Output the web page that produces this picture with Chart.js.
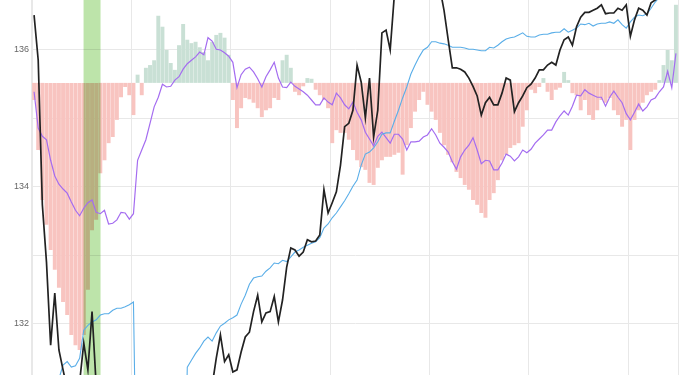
<!DOCTYPE html>
<html>
<head>
<meta charset="utf-8">
<title>Price chart</title>
<script src="https://cdn.jsdelivr.net/npm/chart.js@4/dist/chart.umd.min.js"></script>
<style>
  html, body { margin: 0; padding: 0; background: #fff; overflow: hidden; }
  #wrap { position: relative; width: 685px; height: 375px; }
</style>
</head>
<body>
<div id="wrap"><canvas id="chart"></canvas></div>
<script>
// ---- data ----
const POINTS = 156;
const labels = Array.from({ length: POINTS }, (_, i) => String(i + 1));

// histogram baseline, in price units
const HIST_BASE = 135.52;

const histBars = [
  135.27, 134.54, 133.81, 133.45, 133.08, 132.79, 132.53, 132.32, 132.13, 131.84,
  131.69, 131.62, 131.84, 132.50, 133.37, 133.52, 134.20, 134.39, 134.64, 134.73,
  134.98, 135.31, 135.46, 135.34, 135.05, 135.64, 135.34, 135.74, 135.78, 135.85,
  136.50, 136.34, 136.00, 135.81, 135.71, 136.07, 136.38, 136.15, 136.10, 136.12,
  136.04, 135.97, 135.85, 136.12, 136.22, 136.25, 136.18, 135.93, 135.27, 134.86,
  135.15, 135.30, 135.28, 135.23, 135.15, 135.02, 135.12, 135.15, 135.30, 135.27,
  135.85, 135.93, 135.74, 135.39, 135.34, 135.47, 135.59, 135.58, 135.42, 135.34,
  135.27, 135.15, 134.64, 134.83, 134.79, 134.79, 134.69, 134.54, 134.39, 134.29,
  134.25, 134.06, 134.03, 134.28, 134.39, 134.44, 134.44, 134.47, 134.50, 134.18,
  134.61, 134.86, 135.10, 135.27, 135.39, 135.20, 135.10, 134.98, 134.79, 134.61,
  134.47, 134.36, 134.22, 134.13, 134.03, 133.96, 133.81, 133.74, 133.62, 133.55,
  133.81, 133.91, 134.10, 134.39, 134.47, 134.57, 134.61, 134.64, 134.88, 135.12,
  135.42, 135.37, 135.46, 135.59, 135.39, 135.27, 135.42, 135.45, 135.68, 135.56,
  135.37, 135.34, 135.12, 135.27, 135.05, 134.98, 135.12, 135.27, 135.23, 135.30,
  135.12, 135.05, 134.88, 134.98, 134.54, 134.98, 135.12, 135.23, 135.34, 135.39,
  135.42, 135.56, 135.78, 136.00, 135.85, 136.66
];

const blackLine = [
  136.51, 135.85, 133.74, 132.90, 131.69, 132.45, 131.62, 131.33, 131.05, 130.95,
  131.00, 131.15, 131.72, 131.33, 132.18, 131.10, 130.95, 130.90, 130.85, 130.80,
  130.80, 130.75, 130.70, 130.70, 130.75, 130.80, 130.80, 130.75, 130.70, 130.70,
  130.65, 130.60, 130.60, 130.65, 130.70, 130.70, 130.75, 130.80, 130.85, 130.90,
  130.90, 130.95, 131.00, 131.10, 131.50, 131.84, 131.45, 131.55, 131.30, 131.33,
  131.59, 131.81, 131.88, 132.18, 132.42, 132.03, 132.16, 132.18, 132.40, 132.03,
  132.35, 132.83, 133.11, 133.08, 132.99, 133.05, 133.23, 133.20, 133.21, 133.30,
  133.96, 133.62, 133.77, 133.93, 134.32, 134.88, 134.93, 135.12, 135.78, 135.53,
  135.01, 135.59, 134.73, 135.12, 136.25, 136.29, 136.00, 136.80, 137.00, 137.10,
  137.20, 137.20, 137.30, 137.30, 137.20, 137.20, 137.10, 137.00, 136.90, 136.58,
  136.15, 135.74, 135.74, 135.72, 135.68, 135.59, 135.47, 135.33, 135.05, 135.23,
  135.31, 135.20, 135.20, 135.37, 135.59, 135.56, 135.10, 135.23, 135.33, 135.45,
  135.50, 135.59, 135.71, 135.71, 135.78, 135.82, 135.78, 136.00, 136.15, 136.19,
  136.07, 136.34, 136.48, 136.55, 136.55, 136.58, 136.61, 136.66, 136.53, 136.54,
  136.54, 136.61, 136.58, 136.66, 136.20, 136.44, 136.61, 136.58, 136.51, 136.69,
  136.73, 136.77, 136.85, 136.90, 136.90, 136.95
];

const blueLine = [
  130.90, 130.90, 130.90, 130.95, 131.00, 131.05, 131.20, 131.40, 131.45, 131.37,
  131.39, 131.50, 131.91, 131.98, 132.03, 132.06, 132.13, 132.15, 132.15, 132.20,
  132.23, 132.23, 132.25, 132.28, 132.32, 128.50, 128.50, 128.50, 128.50, 128.50,
  128.50, 128.50, 128.50, 128.50, 128.50, 128.50, 128.50, 131.37, 131.47, 131.57,
  131.65, 131.75, 131.81, 131.75, 131.87, 131.97, 132.01, 132.06, 132.09, 132.13,
  132.29, 132.42, 132.58, 132.67, 132.69, 132.70, 132.77, 132.82, 132.89, 132.88,
  132.93, 132.91, 132.98, 133.05, 133.08, 133.12, 133.15, 133.18, 133.20, 133.26,
  133.40, 133.46, 133.55, 133.62, 133.71, 133.80, 133.90, 134.01, 134.10, 134.32,
  134.48, 134.51, 134.57, 134.66, 134.77, 134.79, 134.79, 134.96, 135.12, 135.30,
  135.46, 135.65, 135.78, 135.90, 136.00, 136.04, 136.12, 136.12, 136.10, 136.09,
  136.07, 136.04, 136.04, 136.04, 136.03, 136.01, 136.01, 136.00, 135.99, 135.99,
  136.04, 136.03, 136.07, 136.12, 136.16, 136.18, 136.19, 136.22, 136.25, 136.20,
  136.19, 136.19, 136.22, 136.23, 136.23, 136.25, 136.26, 136.26, 136.31, 136.26,
  136.29, 136.32, 136.38, 136.37, 136.39, 136.35, 136.38, 136.39, 136.39, 136.41,
  136.39, 136.44, 136.37, 136.32, 136.41, 136.48, 136.51, 136.50, 136.53, 136.61,
  136.70, 136.77, 136.85, 136.90, 136.95, 137.00
];

const purpleLine = [
  135.39, 134.86, 134.74, 134.69, 134.39, 134.16, 134.04, 133.97, 133.91, 133.78,
  133.66, 133.58, 133.69, 133.77, 133.81, 133.63, 133.61, 133.66, 133.46, 133.47,
  133.52, 133.63, 133.62, 133.53, 133.61, 134.39, 134.54, 134.69, 134.93, 135.17,
  135.31, 135.50, 135.46, 135.47, 135.56, 135.61, 135.72, 135.80, 135.85, 135.90,
  135.97, 135.93, 136.18, 136.13, 136.01, 136.00, 135.96, 135.91, 135.82, 135.45,
  135.64, 135.72, 135.75, 135.68, 135.58, 135.46, 135.61, 135.71, 135.82, 135.59,
  135.46, 135.45, 135.53, 135.47, 135.43, 135.39, 135.34, 135.27, 135.20, 135.20,
  135.30, 135.24, 135.20, 135.37, 135.30, 135.20, 135.14, 135.24, 135.09, 134.98,
  134.80, 134.70, 134.60, 134.74, 134.80, 134.72, 134.64, 134.77, 134.77, 134.70,
  134.54, 134.66, 134.66, 134.67, 134.73, 134.76, 134.85, 134.76, 134.64, 134.58,
  134.51, 134.37, 134.26, 134.44, 134.54, 134.61, 134.72, 134.54, 134.34, 134.39,
  134.38, 134.25, 134.25, 134.35, 134.48, 134.45, 134.38, 134.44, 134.54, 134.50,
  134.55, 134.64, 134.70, 134.76, 134.83, 134.83, 134.95, 135.04, 135.11, 135.05,
  135.18, 135.34, 135.33, 135.42, 135.37, 135.34, 135.31, 135.31, 135.18, 135.31,
  135.40, 135.31, 135.23, 135.07, 134.98, 135.09, 135.21, 135.11, 135.17, 135.27,
  135.30, 135.39, 135.46, 135.69, 135.45, 135.95
];

// highlighted window: centre category, width in categories, vertical extent
const BAND_CENTER = 14;
const BAND_SPAN = 4.1;
const BAND_RANGE = [130, 138];

// visible value range of the y axis
const Y_MIN = 131.255;
const Y_MAX = 136.73;

// ---- colours ----
const COLORS = {
  black:  '#222222',
  blue:   '#5aaee8',
  purple: '#a46cf0',
  up:     '#c9e0d5',
  down:   '#f8c4c0',
  band:   '#bde4aa',
  grid:   '#e8e8e8',
  text:   '#666666',
};

const bandData = labels.map((_, i) => (i === BAND_CENTER ? BAND_RANGE : null));

// draw the highlight band with a multiply blend so the bars below show through
const multiplyBand = {
  id: 'multiplyBand',
  beforeDatasetDraw(chart, args) {
    if (chart.data.datasets[args.index].label === 'Band') {
      chart.ctx.save();
      chart.ctx.globalCompositeOperation = 'multiply';
    }
  },
  afterDatasetDraw(chart, args) {
    if (chart.data.datasets[args.index].label === 'Band') chart.ctx.restore();
  },
};

Chart.defaults.font.family = 'Helvetica, Arial, "Liberation Sans", sans-serif';

function lineSet(label, data, color, width) {
  return {
    type: 'line',
    label,
    data,
    borderColor: color,
    borderWidth: width,
    pointRadius: 0,
    tension: 0,
    fill: false,
  };
}

new Chart(document.getElementById('chart'), {
  type: 'bar',
  data: {
    labels,
    datasets: [
      lineSet('Price', blackLine, COLORS.black, 1.7),
      lineSet('Slow', blueLine, COLORS.blue, 1.1),
      lineSet('Fast', purpleLine, COLORS.purple, 1.2),
      {
        label: 'Band',
        data: bandData,
        backgroundColor: COLORS.band,
        grouped: false,
        barPercentage: BAND_SPAN,
        categoryPercentage: 1,
        borderWidth: 0,
        inflateAmount: 0,
      },
      {
        label: 'Histogram',
        data: histBars,
        base: HIST_BASE,
        backgroundColor: ctx => (ctx.raw >= HIST_BASE ? COLORS.up : COLORS.down),
        grouped: false,
        barPercentage: 0.95,
        categoryPercentage: 1,
        borderWidth: 0,
      },
    ],
  },
  options: {
    responsive: true,
    maintainAspectRatio: false,
    animation: false,
    layout: { padding: { left: 0, top: 0, right: 7, bottom: 0 } },
    plugins: {
      legend: { display: false },
      tooltip: { enabled: false },
    },
    scales: {
      x: {
        type: 'category',
        offset: true,
        ticks: { display: false },
        border: { display: false },
        grid: {
          offset: true,
          drawTicks: false,
          // a line every 24 points, plus the closing line at the right edge
          color: c => (c.type !== 'tick' || c.index % 24 === 0 ? COLORS.grid : 'rgba(0,0,0,0)'),
        },
        afterFit: s => { s.height = 0; },
      },
      y: {
        min: Y_MIN,
        max: Y_MAX,
        ticks: {
          stepSize: 1,
          includeBounds: false,
          padding: 3,
          color: COLORS.text,
          font: { size: 9 },
          callback: v => (v % 2 === 0 ? v : ''),
        },
        grid: { color: COLORS.grid, drawTicks: false },
        border: { color: COLORS.grid },
        afterFit: s => {
          s.width = 32;
          s.paddingTop = 0;
          s.paddingBottom = 0;
        },
      },
    },
  },
  plugins: [multiplyBand],
});
</script>
</body>
</html>
